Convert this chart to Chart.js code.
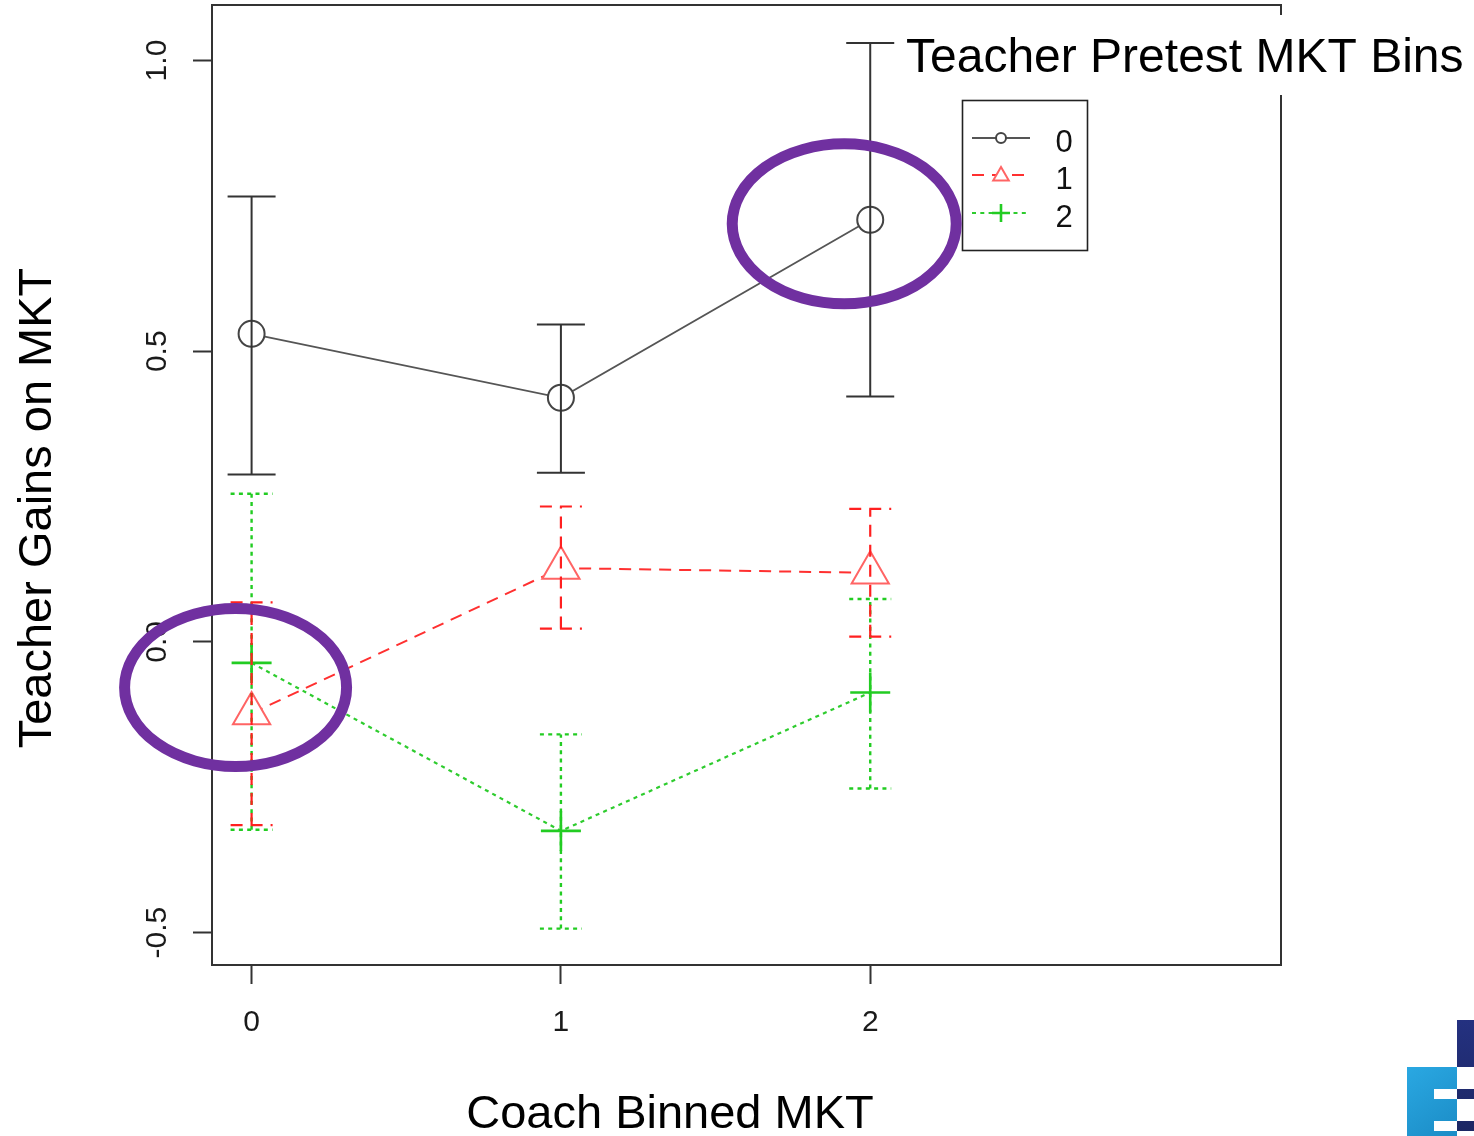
<!DOCTYPE html>
<html>
<head>
<meta charset="utf-8">
<title>Teacher Gains on MKT by Coach Binned MKT</title>
<script src="https://cdn.jsdelivr.net/npm/chart.js@4.4.1/dist/chart.umd.min.js"></script>
<style>
  html, body { margin: 0; padding: 0; background: #ffffff; }
  #wrap { position: relative; width: 1474px; height: 1136px; }
</style>
</head>
<body>
<div id="wrap"><canvas id="chart"></canvas></div>
<script>
// Coach binned MKT levels along the x axis
const coachBins = [0, 1, 2];
// Teacher pretest MKT bins, one line per bin
const pretestBins = ['0', '1', '2'];

// Mean gain with lower / upper interval limits for each pretest bin
const gainBin0 = [0.530, 0.420, 0.726];
const lowBin0  = [0.288, 0.291, 0.422];
const highBin0 = [0.766, 0.546, 1.030];

const gainBin1 = [-0.123, 0.127, 0.119];
const lowBin1  = [-0.315, 0.023, 0.009];
const highBin1 = [0.068, 0.233, 0.229];

const gainBin2 = [-0.036, -0.325, -0.087];
const lowBin2  = [-0.323, -0.493, -0.252];
const highBin2 = [0.255, -0.159, 0.074];

// Axis ticks
const xTickValues = [0, 1, 2];
const xTickLabels = ['0', '1', '2'];
const yTickValues = [-0.5, 0, 0.5, 1.0];
const yTickLabels = ['-0.5', '0.0', '0.5', '1.0'];

const FONT = '"Liberation Sans", Arial, Helvetica, sans-serif';

// Drawing style per pretest bin
const binStyles = [
  { line: '#555555', bar: '#333333', mark: '#444444', dash: [],      lineWidth: 1.8, barWidth: 2,   markWidth: 2,   shape: 'circle',   radius: 13,   legendRadius: 5, cap: 24 },
  { line: '#ff3030', bar: '#ff2020', mark: '#ff6464', dash: [12, 8], lineWidth: 2,   barWidth: 2.2, markWidth: 2,   shape: 'triangle', radius: 21.5, legendRadius: 9, cap: 21 },
  { line: '#2ecc2e', bar: '#22cc22', mark: '#22cc22', dash: [4, 4.3],lineWidth: 2.2, barWidth: 2.4, markWidth: 2.6, shape: 'cross',    radius: 20,   legendRadius: 9, cap: 21 }
];

const seriesMeans = [gainBin0, gainBin1, gainBin2];
const seriesLows  = [lowBin0, lowBin1, lowBin2];
const seriesHighs = [highBin0, highBin1, highBin2];

const datasets = pretestBins.map((name, s) => {
  const st = binStyles[s];
  return {
    label: name,
    data: coachBins.map((x, i) => ({ x: x, y: seriesMeans[s][i] })),
    borderColor: st.line,
    borderWidth: st.lineWidth,
    borderDash: st.dash,
    pointStyle: st.shape,
    pointRadius: st.radius,
    pointHoverRadius: st.radius,
    pointBorderColor: st.mark,
    pointBorderWidth: st.markWidth,
    pointBackgroundColor: '#ffffff',
    tension: 0,
    fill: false,
    clip: false
  };
});

function drawMarker(ctx, shape, x, y, r) {
  ctx.beginPath();
  if (shape === 'circle') {
    ctx.arc(x, y, r, 0, Math.PI * 2);
  } else if (shape === 'triangle') {
    ctx.moveTo(x, y - r);
    ctx.lineTo(x + r * Math.sin(2 * Math.PI / 3), y + r / 2);
    ctx.lineTo(x - r * Math.sin(2 * Math.PI / 3), y + r / 2);
    ctx.closePath();
  } else {
    ctx.moveTo(x - r, y); ctx.lineTo(x + r, y);
    ctx.moveTo(x, y - r); ctx.lineTo(x, y + r);
  }
  if (shape !== 'cross') ctx.fill();
  ctx.stroke();
}

// Vertical interval bars with end caps, drawn in each bin's line style
const intervalBars = {
  id: 'intervalBars',
  afterDatasetsDraw(chart) {
    const { ctx, scales: { x: xs, y: ys } } = chart;
    ctx.save();
    [2, 1, 0].forEach(s => {
      const st = binStyles[s];
      ctx.strokeStyle = st.bar;
      ctx.lineWidth = st.barWidth;
      ctx.setLineDash(st.dash);
      coachBins.forEach((bin, i) => {
        const px = xs.getPixelForValue(bin);
        const lo = ys.getPixelForValue(seriesLows[s][i]);
        const hi = ys.getPixelForValue(seriesHighs[s][i]);
        ctx.beginPath();
        ctx.moveTo(px, lo); ctx.lineTo(px, hi);
        ctx.moveTo(px - st.cap, hi); ctx.lineTo(px + st.cap, hi);
        ctx.moveTo(px - st.cap, lo); ctx.lineTo(px + st.cap, lo);
        ctx.stroke();
      });
    });
    ctx.restore();
  }
};

// Plot frame, legend, axis titles, highlight rings and corner mark
const decorations = {
  id: 'decorations',
  afterDraw(chart, args, opts) {
    const { ctx, chartArea: a, scales: { x: xs, y: ys } } = chart;
    ctx.save();

    // top and right edges of the box
    ctx.strokeStyle = '#333333';
    ctx.lineWidth = 2;
    ctx.setLineDash([]);
    ctx.beginPath();
    ctx.moveTo(a.left, a.top); ctx.lineTo(a.right, a.top); ctx.lineTo(a.right, a.bottom);
    ctx.stroke();

    // legend heading on a white band
    ctx.fillStyle = '#ffffff';
    ctx.fillRect(896, 15, 1474 - 896, 80);
    ctx.fillStyle = '#000000';
    ctx.font = '48px ' + FONT;
    ctx.textAlign = 'left';
    ctx.textBaseline = 'alphabetic';
    ctx.fillText('Teacher Pretest MKT Bins', 906, 72);

    // legend box
    const lg = { left: 962, top: 100, w: 125, h: 150, rows: [138, 175, 213] };
    ctx.fillStyle = '#ffffff';
    ctx.fillRect(lg.left, lg.top, lg.w, lg.h);
    ctx.strokeStyle = '#222222';
    ctx.lineWidth = 1.6;
    ctx.strokeRect(lg.left + 0.5, lg.top + 0.5, lg.w, lg.h);
    pretestBins.forEach((name, s) => {
      const st = binStyles[s];
      const yy = lg.rows[s];
      ctx.strokeStyle = st.line;
      ctx.lineWidth = st.lineWidth;
      ctx.setLineDash(st.dash);
      ctx.beginPath();
      ctx.moveTo(972, yy); ctx.lineTo(1030, yy);
      ctx.stroke();
      ctx.setLineDash([]);
      ctx.strokeStyle = st.mark;
      ctx.lineWidth = st.markWidth;
      ctx.fillStyle = '#ffffff';
      drawMarker(ctx, st.shape, 1001, yy + (st.shape === 'triangle' ? 1 : 0), st.legendRadius);
      ctx.fillStyle = '#111111';
      ctx.font = '31px ' + FONT;
      ctx.textAlign = 'center';
      ctx.textBaseline = 'middle';
      ctx.fillText(name, 1064, yy + 5);
    });

    // axis titles
    ctx.fillStyle = '#000000';
    ctx.font = '47px ' + FONT;
    ctx.textAlign = 'center';
    ctx.textBaseline = 'alphabetic';
    ctx.fillText('Coach Binned MKT', 670, 1128);
    ctx.save();
    ctx.translate(51, 508);
    ctx.rotate(-Math.PI / 2);
    ctx.fillText('Teacher Gains on MKT', 0, 0);
    ctx.restore();

    // highlight rings around selected means
    ctx.strokeStyle = '#7030a0';
    ctx.lineWidth = 11;
    opts.rings.forEach(r => {
      const cx = xs.getPixelForValue(coachBins[r.index]) + r.dx;
      const cy = ys.getPixelForValue(seriesMeans[r.series][r.index]) + r.dy;
      ctx.beginPath();
      ctx.ellipse(cx, cy, r.rx, r.ry, 0, 0, Math.PI * 2);
      ctx.stroke();
    });

    // corner mark
    const navy = ctx.createLinearGradient(0, 1020, 0, 1136);
    navy.addColorStop(0, '#243180');
    navy.addColorStop(1, '#1b2662');
    const sky = ctx.createLinearGradient(1407, 1067, 1457, 1136);
    sky.addColorStop(0, '#2aa8e2');
    sky.addColorStop(1, '#1b8cc6');
    ctx.fillStyle = navy;
    ctx.fillRect(1457, 1020, 17, 47);
    ctx.fillRect(1457, 1089, 17, 10);
    ctx.fillRect(1457, 1121, 17, 10);
    ctx.fillStyle = sky;
    ctx.fillRect(1407, 1067, 50, 69);
    ctx.fillStyle = '#ffffff';
    ctx.fillRect(1434, 1089, 23, 10);
    ctx.fillRect(1434, 1121, 23, 10);

    ctx.restore();
  }
};

new Chart(document.getElementById('chart'), {
  type: 'line',
  data: { datasets: datasets },
  plugins: [intervalBars, decorations],
  options: {
    responsive: true,
    maintainAspectRatio: false,
    devicePixelRatio: 1,
    animation: false,
    events: [],
    layout: { autoPadding: false, padding: { top: 5, right: 193, bottom: 0, left: 0 } },
    plugins: {
      legend: { display: false },
      tooltip: { enabled: false },
      decorations: {
        rings: [
          { series: 0, index: 2, dx: -26, dy: 4, rx: 112, ry: 80 },
          { series: 1, index: 0, dx: -16, dy: -26, rx: 111, ry: 79 }
        ]
      }
    },
    scales: {
      x: {
        type: 'linear',
        min: -0.128,
        max: 3.328,
        afterBuildTicks: s => { s.ticks = xTickValues.map(v => ({ value: v })); },
        afterFit: s => { s.height = 171; s.paddingLeft = 0; s.paddingRight = 0; },
        grid: { drawOnChartArea: false, drawTicks: true, tickLength: 19, tickWidth: 2, tickColor: '#333333' },
        border: { display: true, color: '#333333', width: 2 },
        ticks: {
          autoSkip: false, maxRotation: 0, padding: 21,
          color: '#1a1a1a', font: { family: FONT, size: 30 },
          callback: (v, i) => xTickLabels[i]
        }
      },
      y: {
        type: 'linear',
        min: -0.5556,
        max: 1.0955,
        afterBuildTicks: s => { s.ticks = yTickValues.map(v => ({ value: v })); },
        afterFit: s => { s.width = 212; s.paddingTop = 0; s.paddingBottom = 0; },
        grid: { drawOnChartArea: false, drawTicks: true, tickLength: 19, tickWidth: 2, tickColor: '#333333' },
        border: { display: true, color: '#333333', width: 2 },
        ticks: {
          autoSkip: false, minRotation: 90, maxRotation: 90, crossAlign: 'center', padding: 9,
          color: '#1a1a1a', font: { family: FONT, size: 30 },
          callback: (v, i) => yTickLabels[i]
        }
      }
    }
  }
});
</script>
</body>
</html>
